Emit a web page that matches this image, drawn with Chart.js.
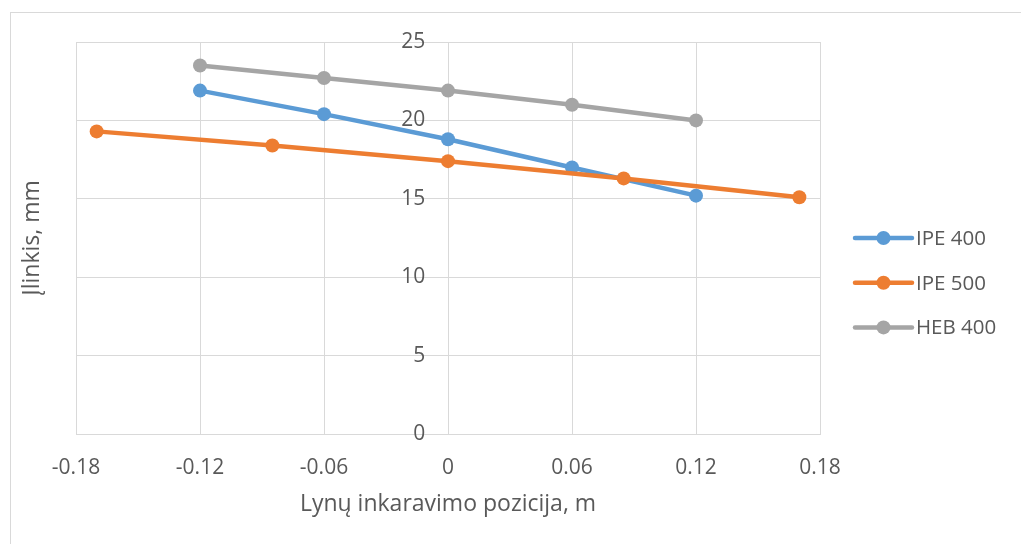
<!DOCTYPE html>
<html>
<head>
<meta charset="utf-8">
<title>Įlinkis pagal lynų inkaravimo poziciją</title>
<script src="https://cdn.jsdelivr.net/npm/chart.js@4.4.1/dist/chart.umd.min.js"></script>
<style>
  html, body { margin: 0; padding: 0; background: #ffffff; overflow: hidden; }
  #wrap { position: relative; width: 1021px; height: 544px; }
</style>
</head>
<body>
<div id="wrap"><canvas id="chart" width="1021" height="544"></canvas></div>
<script>
// Deflection (mm) against cable anchoring position (m) for three beam sections
const ipe400X = [-0.12, -0.06, 0, 0.06, 0.12];
const ipe400Y = [21.9, 20.4, 18.8, 17.0, 15.2];

const ipe500X = [-0.17, -0.085, 0, 0.085, 0.17];
const ipe500Y = [19.3, 18.4, 17.4, 16.3, 15.1];

const heb400X = [-0.12, -0.06, 0, 0.06, 0.12];
const heb400Y = [23.5, 22.7, 21.9, 21.0, 20.0];

const seriesNames = ['IPE 400', 'IPE 500', 'HEB 400'];
const seriesColors = ['#5B9BD5', '#ED7D31', '#A5A5A5'];

const xTicks = [-0.18, -0.12, -0.06, 0, 0.06, 0.12, 0.18];
const yTicks = [0, 5, 10, 15, 20, 25];

const xTitle = 'Lynų inkaravimo pozicija, m';
const yTitle = 'Įlinkis, mm';

const FONT = "'Open Sans', 'Liberation Sans', sans-serif";
const TEXT = '#595959';
const GRID = '#d9d9d9';

function toPoints(xs, ys) {
  return xs.map((x, i) => ({ x: x, y: ys[i] }));
}

function makeSeries(i, xs, ys, order) {
  return {
    label: seriesNames[i],
    data: toPoints(xs, ys),
    borderColor: seriesColors[i],
    backgroundColor: seriesColors[i],
    borderWidth: 4.5,
    pointRadius: 7,
    pointHoverRadius: 7,
    pointBorderWidth: 0,
    pointBackgroundColor: seriesColors[i],
    tension: 0,
    order: order
  };
}

// Outer frame of the chart object
const framePlugin = {
  id: 'frame',
  beforeDraw(chart) {
    const ctx = chart.ctx;
    ctx.save();
    ctx.strokeStyle = GRID;
    ctx.lineWidth = 1;
    ctx.strokeRect(10.5, 12.5, 1100, 1000);
    ctx.restore();
  }
};

// Legend with a line-and-marker swatch for each series, right of the plot
const seriesLegend = {
  id: 'seriesLegend',
  afterDraw(chart) {
    const ctx = chart.ctx;
    const x0 = 855, x1 = 912, top = 238, gap = 44.7;
    ctx.save();
    chart.data.datasets.forEach((ds, i) => {
      const y = top + i * gap;
      ctx.strokeStyle = ds.borderColor;
      ctx.lineWidth = 4.5;
      ctx.lineCap = 'round';
      ctx.beginPath();
      ctx.moveTo(x0, y);
      ctx.lineTo(x1, y);
      ctx.stroke();
      ctx.fillStyle = ds.borderColor;
      ctx.beginPath();
      ctx.arc((x0 + x1) / 2, y, 7, 0, Math.PI * 2);
      ctx.fill();
      ctx.fillStyle = TEXT;
      ctx.font = '20.5px ' + FONT;
      ctx.textAlign = 'left';
      ctx.textBaseline = 'middle';
      ctx.fillText(ds.label, x1 + 4, y + 1);
    });
    ctx.restore();
  }
};

new Chart(document.getElementById('chart'), {
  type: 'line',
  data: {
    datasets: [
      makeSeries(0, ipe400X, ipe400Y, 3),
      makeSeries(1, ipe500X, ipe500Y, 2),
      makeSeries(2, heb400X, heb400Y, 1)
    ]
  },
  options: {
    responsive: false,
    animation: false,
    devicePixelRatio: 1,
    layout: { padding: { left: 10, top: 42, right: 201, bottom: 0 } },
    font: { family: FONT },
    plugins: {
      legend: { display: false },
      tooltip: { enabled: false }
    },
    scales: {
      x: {
        type: 'linear',
        position: 'bottom',
        min: -0.18,
        max: 0.18,
        afterBuildTicks: s => { s.ticks = xTicks.map(v => ({ value: v })); },
        afterFit: s => { s.height = 110; },
        ticks: {
          color: TEXT,
          font: { family: FONT, size: 21 },
          padding: 21,
          maxRotation: 0,
          autoSkip: false,
          callback: v => String(v)
        },
        grid: { color: GRID, lineWidth: 1, drawTicks: false },
        border: { color: GRID, width: 1 },
        title: {
          display: true,
          text: xTitle,
          color: TEXT,
          font: { family: FONT, size: 23 },
          padding: { top: 0, bottom: 26 }
        }
      },
      // Value axis crosses the category axis just left of zero, so its labels
      // sit beside the zero gridline
      y: {
        type: 'linear',
        position: { x: -0.011 },
        min: 0,
        max: 25,
        afterBuildTicks: s => { s.ticks = yTicks.map(v => ({ value: v })); },
        ticks: {
          color: TEXT,
          font: { family: FONT, size: 21 },
          callback: v => String(v)
        },
        grid: { color: GRID, lineWidth: 1, drawTicks: false },
        border: { display: false }
      },
      yTitleAxis: {
        type: 'linear',
        axis: 'y',
        position: 'left',
        afterFit: s => { s.width = 66; },
        ticks: { display: false },
        grid: { display: false, drawTicks: false },
        border: { display: false },
        title: {
          display: true,
          text: yTitle,
          color: TEXT,
          font: { family: FONT, size: 23 },
          padding: { top: 9, bottom: 0 }
        }
      }
    }
  },
  plugins: [framePlugin, seriesLegend]
});
</script>
</body>
</html>
